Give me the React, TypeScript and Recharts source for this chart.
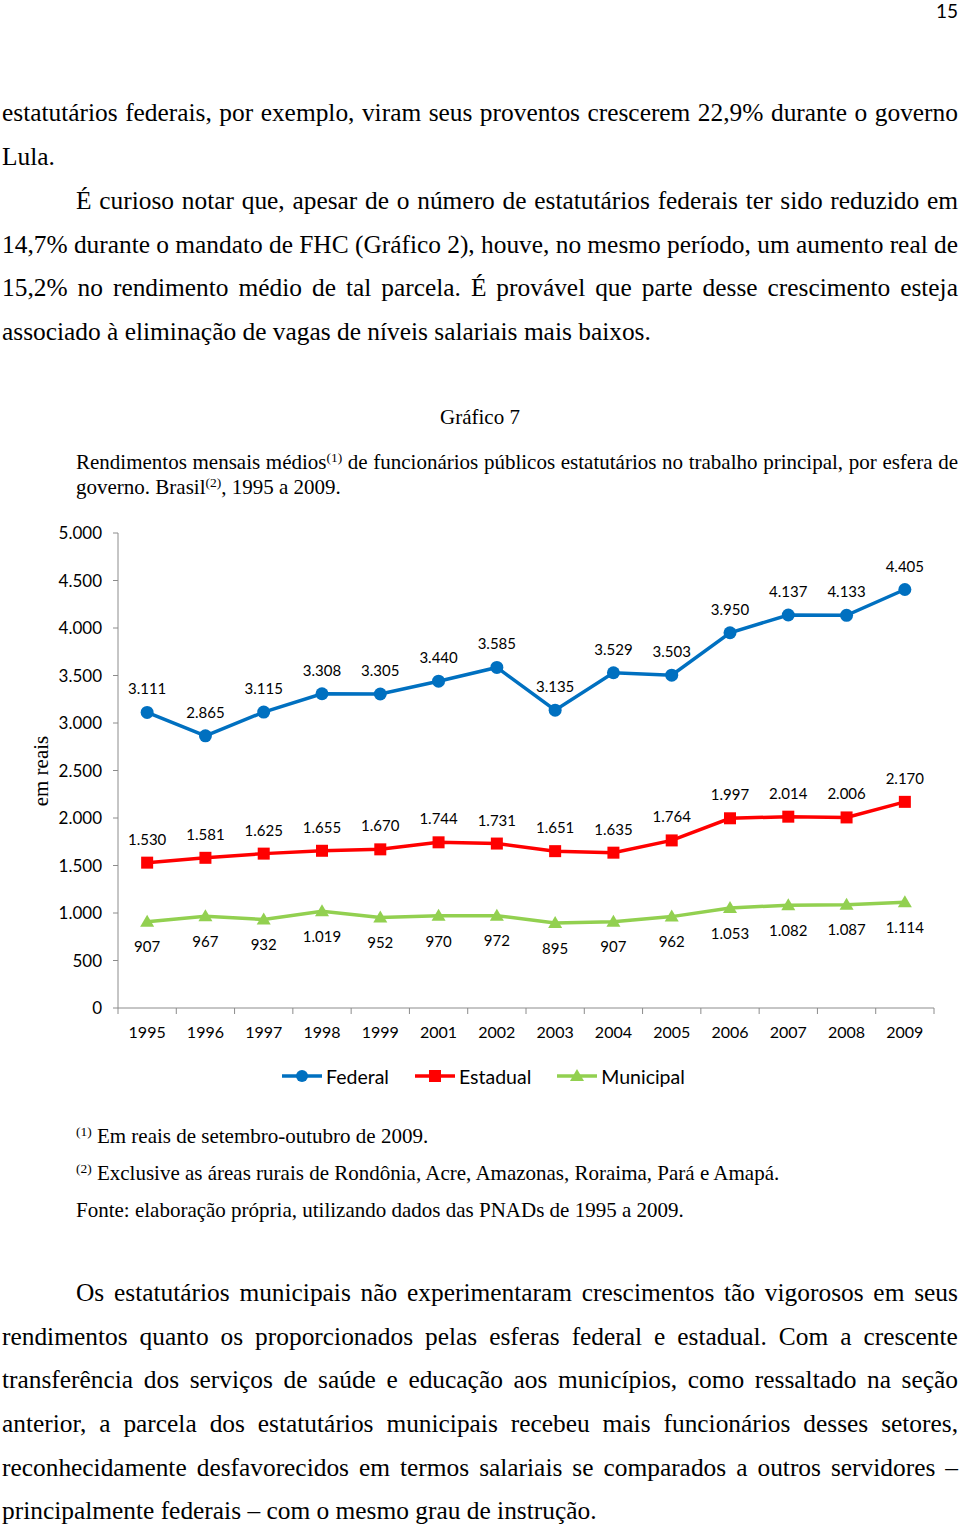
import React from "react";
import { LineChart, Line, XAxis, YAxis, LabelList } from "recharts";

const years = ["1995", "1996", "1997", "1998", "1999", "2001", "2002", "2003", "2004", "2005", "2006", "2007", "2008", "2009"];
const federal = [3111, 2865, 3115, 3308, 3305, 3440, 3585, 3135, 3529, 3503, 3950, 4137, 4133, 4405];
const estadual = [1530, 1581, 1625, 1655, 1670, 1744, 1731, 1651, 1635, 1764, 1997, 2014, 2006, 2170];
const municipal = [907, 967, 932, 1019, 952, 970, 972, 895, 907, 962, 1053, 1082, 1087, 1114];
const yTicks = [0, 500, 1000, 1500, 2000, 2500, 3000, 3500, 4000, 4500, 5000];

const BLUE = "#0070C0";
const RED = "#FF0000";
const GREEN = "#92D050";
const AXIS = "#8c8c8c";
const SERIF = '"Liberation Serif", "Times New Roman", serif';
const SANS = 'Lato, "Open Sans", sans-serif';

const data = years.map((year, i) => ({
  year,
  federal: federal[i],
  estadual: estadual[i],
  municipal: municipal[i],
}));

const fmt = (v: any) => {
  const n = Number(v);
  if (n < 1000) return String(n);
  return `${Math.floor(n / 1000)}.${String(n % 1000).padStart(3, "0")}`;
};

const SquareDot = (props: any) => {
  const { cx, cy } = props;
  if (cx == null || cy == null) return null;
  return <rect x={cx - 6} y={cy - 6} width={12} height={12} fill={RED} />;
};

const TriangleDot = (props: any) => {
  const { cx, cy } = props;
  if (cx == null || cy == null) return null;
  return <polygon points={`${cx},${cy - 7} ${cx + 7},${cy + 5} ${cx - 7},${cy + 5}`} fill={GREEN} />;
};

const YearTick = (props: any) => {
  const { x, y, payload, index, visibleTicksCount } = props;
  const half = payload?.offset ?? 816 / years.length / 2;
  return (
    <g>
      <line x1={x - half} x2={x - half} y1={y} y2={y + 6} stroke={AXIS} />
      {index === visibleTicksCount - 1 && <line x1={x + half} x2={x + half} y1={y} y2={y + 6} stroke={AXIS} />}
      <text x={x} y={y + 30} textAnchor="middle" fontSize={16} fontFamily={SANS} fill="#000">
        {payload.value}
      </text>
    </g>
  );
};

const Sup = ({ children }: { children: React.ReactNode }) => (
  <span style={{ fontSize: "0.64em", position: "relative", top: "-0.55em", lineHeight: 0 }}>{children}</span>
);

type LineProps = {
  baseline: number;
  size: number;
  left?: number;
  right?: number;
  justify?: boolean;
  words: React.ReactNode[];
};

// small correction measured against the reference
const SHIFT = 2.5;

function TextLine({ baseline, size, left = 2, right = 958, justify = false, words }: LineProps) {
  const top = baseline + SHIFT - 0.8375 * size;
  return (
    <div
      style={{
        position: "absolute",
        top,
        left,
        width: right - left,
        fontFamily: SERIF,
        fontSize: size,
        lineHeight: `${size}px`,
        whiteSpace: "nowrap",
        color: "#000",
        display: justify ? "flex" : "block",
        justifyContent: "space-between",
      }}
    >
      {justify
        ? words.map((w, i) => <span key={i}>{w}</span>)
        : words.map((w, i) => (
            <React.Fragment key={i}>
              {i > 0 ? " " : ""}
              {w}
            </React.Fragment>
          ))}
    </div>
  );
}

const split = (s: string) => s.split(" ");

const topLines = [
  { text: "estatutários federais, por exemplo, viram seus proventos crescerem 22,9% durante o governo", indent: 0, justify: true },
  { text: "Lula.", indent: 0, justify: false },
  { text: "É curioso notar que, apesar de o número de estatutários federais ter sido reduzido em", indent: 74, justify: true },
  { text: "14,7% durante o mandato de FHC (Gráfico 2), houve, no mesmo período, um aumento real de", indent: 0, justify: true },
  { text: "15,2% no rendimento médio de tal parcela. É provável que parte desse crescimento esteja", indent: 0, justify: true },
  { text: "associado à eliminação de vagas de níveis salariais mais baixos.", indent: 0, justify: false },
];

const bottomLines = [
  { text: "Os estatutários municipais não experimentaram crescimentos tão vigorosos em seus", indent: 74, justify: true },
  { text: "rendimentos quanto os proporcionados pelas esferas federal e estadual. Com a crescente", indent: 0, justify: true },
  { text: "transferência dos serviços de saúde e educação aos municípios, como ressaltado na seção", indent: 0, justify: true },
  { text: "anterior, a parcela dos estatutários municipais recebeu mais funcionários desses setores,", indent: 0, justify: true },
  { text: "reconhecidamente desfavorecidos em termos salariais se comparados a outros servidores –", indent: 0, justify: true },
  { text: "principalmente federais – com o mesmo grau de instrução.", indent: 0, justify: false },
];

const legendItems = [
  { name: "Federal", color: BLUE, shape: "circle" },
  { name: "Estadual", color: RED, shape: "square" },
  { name: "Municipal", color: GREEN, shape: "triangle" },
];

const LegendIcon = ({ color, shape }: { color: string; shape: string }) => (
  <svg width={40} height={20} style={{ display: "block" }}>
    <line x1={0} x2={40} y1={10} y2={10} stroke={color} strokeWidth={3.5} />
    {shape === "circle" && <circle cx={20} cy={10} r={6} fill={color} />}
    {shape === "square" && <rect x={14} y={4} width={12} height={12} fill={color} />}
    {shape === "triangle" && <polygon points="20,3 27,15 13,15" fill={color} />}
  </svg>
);

export default function App() {
  return (
    <div style={{ position: "absolute", left: 0, top: 0, width: 960, height: 1527, background: "#fff", overflow: "hidden" }}>
      <div style={{ position: "absolute", right: 2, top: 0, fontFamily: SANS, fontSize: 19, lineHeight: "22px", color: "#000" }}>15</div>

      {topLines.map((l, i) => (
        <TextLine key={i} baseline={119 + 43.8 * i} size={25.4} left={2 + l.indent} justify={l.justify} words={split(l.text)} />
      ))}

      <div
        style={{
          position: "absolute",
          left: 0,
          width: 960,
          top: 422 + SHIFT + 0.5 - 0.8375 * 21,
          textAlign: "center",
          fontFamily: SERIF,
          fontSize: 21,
          lineHeight: "21px",
        }}
      >
        Gráfico 7
      </div>
      <TextLine
        baseline={467}
        size={21}
        left={76}
        justify
        words={[
          "Rendimentos",
          "mensais",
          <>
            médios<Sup>(1)</Sup>
          </>,
          "de",
          "funcionários",
          "públicos",
          "estatutários",
          "no",
          "trabalho",
          "principal,",
          "por",
          "esfera",
          "de",
        ]}
      />
      <TextLine
        baseline={492}
        size={21}
        left={76}
        words={[
          "governo.",
          <>
            Brasil<Sup>(2)</Sup>,
          </>,
          "1995",
          "a",
          "2009.",
        ]}
      />

      <div style={{ position: "absolute", left: 0, top: 510 }}>
        <LineChart width={960} height={560} data={data} margin={{ top: 23, right: 26, left: 50, bottom: 22 }}>
          <XAxis
            dataKey="year"
            scale="band"
            interval={0}
            height={40}
            tickLine={false}
            tickSize={0}
            tickMargin={0}
            axisLine={{ stroke: AXIS }}
            tick={<YearTick />}
          />
          <YAxis
            domain={[0, 5000]}
            ticks={yTicks}
            interval={0}
            width={68}
            tickSize={5}
            tickMargin={11}
            tickFormatter={fmt}
            axisLine={{ stroke: AXIS }}
            tickLine={{ stroke: AXIS }}
            tick={{ fill: "#000", fontSize: 17, fontFamily: SANS }}
          />
          <Line
            dataKey="federal"
            stroke={BLUE}
            strokeWidth={3.5}
            dot={{ r: 6.5, fill: BLUE, stroke: BLUE, strokeWidth: 0 }}
            isAnimationActive={false}
          >
            <LabelList dataKey="federal" position="top" offset={18} formatter={fmt} fill="#000" fontSize={15} fontFamily={SANS} />
          </Line>
          <Line dataKey="estadual" stroke={RED} strokeWidth={3.5} dot={SquareDot} isAnimationActive={false}>
            <LabelList dataKey="estadual" position="top" offset={18} formatter={fmt} fill="#000" fontSize={15} fontFamily={SANS} />
          </Line>
          <Line dataKey="municipal" stroke={GREEN} strokeWidth={3.5} dot={TriangleDot} isAnimationActive={false}>
            <LabelList dataKey="municipal" position="bottom" offset={20} formatter={fmt} fill="#000" fontSize={15} fontFamily={SANS} />
          </Line>
        </LineChart>
      </div>

      <div
        style={{
          position: "absolute",
          left: 41 - 100,
          top: 771 - 12,
          width: 200,
          height: 24,
          lineHeight: "24px",
          textAlign: "center",
          transform: "rotate(-90deg)",
          fontFamily: SERIF,
          fontSize: 21,
          color: "#000",
        }}
      >
        em reais
      </div>

      <div style={{ position: "absolute", left: 282, top: 1064, display: "flex", alignItems: "center", height: 24 }}>
        {legendItems.map((it, i) => (
          <div key={it.name} style={{ display: "flex", alignItems: "center", marginLeft: i === 0 ? 0 : 26 }}>
            <LegendIcon color={it.color} shape={it.shape} />
            <span style={{ marginLeft: 4, fontFamily: SANS, fontSize: 19.5, color: "#000" }}>{it.name}</span>
          </div>
        ))}
      </div>

      <TextLine
        baseline={1141}
        size={21}
        left={76}
        words={[<Sup>(1)</Sup>, "Em reais de setembro-outubro de 2009."]}
      />
      <TextLine
        baseline={1178}
        size={21}
        left={76}
        words={[<Sup>(2)</Sup>, "Exclusive as áreas rurais de Rondônia, Acre, Amazonas, Roraima, Pará e Amapá."]}
      />
      <TextLine baseline={1215} size={21} left={76} words={["Fonte: elaboração própria, utilizando dados das PNADs de 1995 a 2009."]} />

      {bottomLines.map((l, i) => (
        <TextLine key={i} baseline={1299 + 43.6 * i} size={25.4} left={2 + l.indent} justify={l.justify} words={split(l.text)} />
      ))}
    </div>
  );
}
